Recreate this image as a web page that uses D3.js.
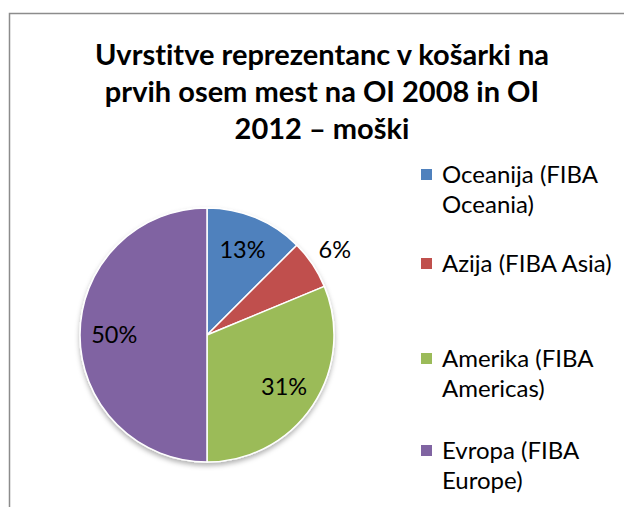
<!DOCTYPE html>
<html>
<head>
<meta charset="utf-8">
<script src="https://cdn.jsdelivr.net/npm/d3@7"></script>
<style>
  html, body { margin: 0; padding: 0; background: #fff; }
  svg { display: block; }
  text { font-variant-ligatures: none; }
</style>
</head>
<body>
<div id="chart"></div>
<script>
// data: 16 places (8 per games, 2008 + 2012)
var titleLines = ["Uvrstitve reprezentanc v košarki na", "prvih osem mest na OI 2008 in OI", "2012 – moški"];
var regions = ["Oceanija", "Azija", "Amerika", "Evropa"];
var legendLabels = [["Oceanija (FIBA", "Oceania)"], ["Azija (FIBA Asia)"], ["Amerika (FIBA", "Americas)"], ["Evropa (FIBA", "Europe)"]];
var places = [2, 1, 5, 8];
var colors = ["#4f81bd", "#c0504d", "#9bbb59", "#8064a2"];

// layout
var config = {
    width: 624,
    height: 507,
    font: "Lato, 'Open Sans', sans-serif",
    pie: { cx: 207, cy: 335, r: 127 },
    title: { x: 322, y: 65, lineHeight: 37, size: 29 },
    legend: { x: 421, textX: 442, box: 11, size: 24, lineHeight: 30, rows: [183, 272, 367, 459] },
    labelSize: 23.5
};

var svg = d3.select("#chart").append("svg")
    .attr("width", config.width)
    .attr("height", config.height);

var defs = svg.append("defs");
var shadow = defs.append("filter").attr("id", "shadow")
    .attr("x", "-20%").attr("y", "-20%").attr("width", "140%").attr("height", "140%");
shadow.append("feDropShadow")
    .attr("dx", 0).attr("dy", 3).attr("stdDeviation", 2.5)
    .attr("flood-color", "#000").attr("flood-opacity", 0.3);

// chart area border (only top and left edges are visible in the crop)
svg.append("rect")
    .attr("x", 9.5).attr("y", 13.5)
    .attr("width", 700).attr("height", 600)
    .attr("fill", "none")
    .attr("stroke", "#8c8c8c")
    .attr("stroke-width", 1.5);

// title
svg.append("text")
    .attr("font-family", config.font)
    .attr("font-weight", "bold")
    .attr("font-size", config.title.size)
    .attr("fill", "#000")
    .attr("text-anchor", "middle")
    .selectAll("tspan")
    .data(titleLines)
    .enter().append("tspan")
    .attr("x", config.title.x)
    .attr("y", function (d, i) { return config.title.y + i * config.title.lineHeight; })
    .text(function (d) { return d; });

// pie
var total = d3.sum(places);
var pie = d3.pie().sort(null).value(function (d) { return d; });
var arcs = pie(places);
var arc = d3.arc().innerRadius(0).outerRadius(config.pie.r);
var color = d3.scaleOrdinal().domain(regions).range(colors);

var g = svg.append("g")
    .attr("transform", "translate(" + config.pie.cx + "," + config.pie.cy + ")");

g.append("g").attr("filter", "url(#shadow)")
    .selectAll("path")
    .data(arcs)
    .enter().append("path")
    .attr("d", arc)
    .attr("fill", function (d, i) { return color(regions[i]); })
    .attr("stroke", "#fff")
    .attr("stroke-width", 1.5)
    .attr("stroke-linejoin", "round");

// data labels: inside for big slices, just outside for small ones
var inner = d3.arc().innerRadius(config.pie.r * 0.73).outerRadius(config.pie.r * 0.73);
var outer = d3.arc().innerRadius(config.pie.r * 1.21).outerRadius(config.pie.r * 1.21);

g.selectAll(".label")
    .data(arcs)
    .enter().append("text")
    .attr("class", "label")
    .attr("transform", function (d) {
        var c = (d.value / total < 0.1 ? outer : inner).centroid(d);
        return "translate(" + c[0] + "," + c[1] + ")";
    })
    .attr("text-anchor", "middle")
    .attr("dy", "0.35em")
    .attr("font-family", config.font)
    .attr("font-size", config.labelSize)
    .attr("fill", "#000")
    .text(function (d) { return Math.round(d.value / total * 100) + "%"; });

// legend
var items = svg.selectAll(".legend")
    .data(legendLabels)
    .enter().append("g")
    .attr("class", "legend")
    .attr("transform", function (d, i) { return "translate(0," + config.legend.rows[i] + ")"; });

items.append("rect")
    .attr("x", config.legend.x)
    .attr("y", -14)
    .attr("width", config.legend.box)
    .attr("height", config.legend.box)
    .attr("fill", function (d, i) { return color(regions[i]); });

items.append("text")
    .attr("font-family", config.font)
    .attr("font-size", config.legend.size)
    .attr("fill", "#000")
    .selectAll("tspan")
    .data(function (d) { return d; })
    .enter().append("tspan")
    .attr("x", config.legend.textX)
    .attr("y", function (d, i) { return i * config.legend.lineHeight; })
    .text(function (d) { return d; });
</script>
</body>
</html>
